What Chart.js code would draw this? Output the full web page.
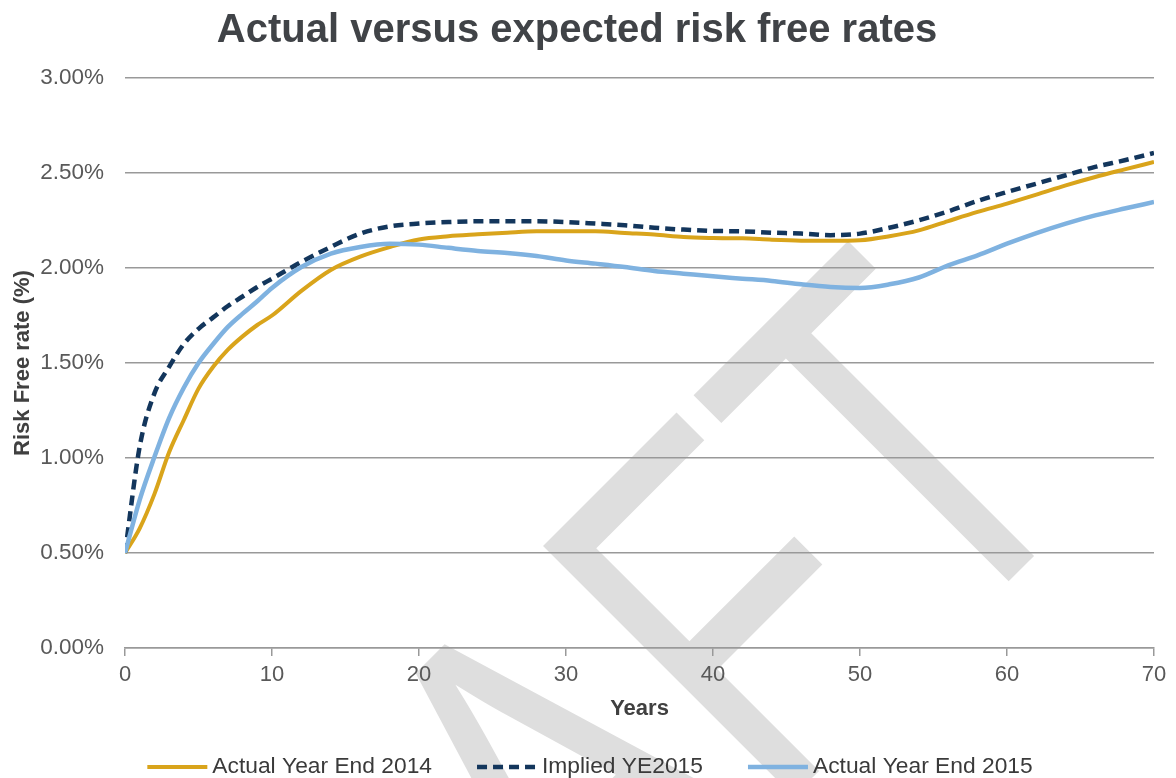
<!DOCTYPE html>
<html>
<head>
<meta charset="utf-8">
<script src="https://cdn.jsdelivr.net/npm/chart.js@4.4.1/dist/chart.umd.min.js"></script>
<style>
  html, body { margin: 0; padding: 0; background: #ffffff; }
  #wrap { width: 1176px; height: 778px; }
</style>
</head>
<body>
<div id="wrap"><canvas id="c" width="1176" height="778"></canvas></div>
<script>
// Maturity in years
const years = [0, 1, 2, 3, 4, 5, 6, 7, 8, 9, 10, 12, 14, 16, 18, 20, 22, 24, 26, 28, 30,
  32, 34, 36, 38, 40, 42, 44, 46, 48, 50, 52, 54, 56, 58, 60, 62, 64, 66, 68, 70];

// Risk free rates, in percent
const actual2014 = [0.50, 0.63, 0.81, 1.03, 1.20, 1.365, 1.48, 1.57, 1.64, 1.70, 1.75, 1.88, 1.99,
  2.06, 2.11, 2.15, 2.167, 2.177, 2.186, 2.193, 2.193, 2.193, 2.184, 2.176, 2.163, 2.158, 2.156,
  2.149, 2.144, 2.143, 2.146, 2.167, 2.198, 2.247, 2.295, 2.339, 2.386, 2.435, 2.479, 2.519, 2.558];

const implied2015 = [0.50, 1.06, 1.34, 1.48, 1.60, 1.68, 1.74, 1.80, 1.85, 1.90, 1.944, 2.032, 2.111,
  2.181, 2.219, 2.234, 2.242, 2.246, 2.246, 2.246, 2.242, 2.234, 2.225, 2.212, 2.202, 2.195, 2.193,
  2.186, 2.181, 2.173, 2.181, 2.212, 2.251, 2.298, 2.353, 2.40, 2.444, 2.488, 2.532, 2.567, 2.605];

const actual2015 = [0.50, 0.78, 1.005, 1.21, 1.37, 1.50, 1.60, 1.69, 1.76, 1.825, 1.895, 2.005, 2.076,
  2.111, 2.128, 2.123, 2.106, 2.09, 2.079, 2.063, 2.04, 2.023, 2.005, 1.984, 1.97, 1.956, 1.944,
  1.932, 1.914, 1.90, 1.895, 1.914, 1.95, 2.014, 2.067, 2.128, 2.184, 2.234, 2.277, 2.313, 2.347];

const seriesNames = ['Actual Year End 2014', 'Implied YE2015', 'Actual Year End 2015'];

const yTickMin = 0, yTickMax = 3, yTickStep = 0.5;
const xTickMin = 0, xTickMax = 70, xTickStep = 10;

const FONT = "'Liberation Sans', Arial, Helvetica, sans-serif";

const toPoints = (vals) => years.map((yr, i) => ({ x: yr, y: vals[i] }));

// White page with the large "DRAFT" stamp behind the plot
const pagePlugin = {
  id: 'page',
  beforeDraw(chart) {
    const ctx = chart.ctx;
    ctx.save();
    ctx.fillStyle = '#ffffff';
    ctx.fillRect(0, 0, chart.width, chart.height);
    ctx.font = '515px ' + FONT;
    ctx.fillStyle = '#dedede';
    ctx.textBaseline = 'alphabetic';
    ctx.textAlign = 'left';
    ctx.translate(938, 652);
    ctx.rotate(-Math.PI / 4);
    ctx.scale(0.75, 1);
    ctx.fillText('DRAFT', -ctx.measureText('DRAF').width, 0);
    ctx.restore();
  }
};

// Single-row legend under the axis title
const legendPlugin = {
  id: 'bottomLegend',
  afterDraw(chart) {
    const ctx = chart.ctx;
    const sets = chart.data.datasets;
    const sample = 60, gap = 5, spacing = 45, y = 767;
    ctx.save();
    ctx.font = '22.8px ' + FONT;
    const widths = sets.map(d => sample + gap + ctx.measureText(d.label).width);
    const total = widths.reduce((a, b) => a + b, 0) + spacing * (sets.length - 1);
    let x = (chart.width - total) / 2 + 2;
    sets.forEach((d, i) => {
      ctx.strokeStyle = d.borderColor;
      ctx.lineWidth = d.borderWidth;
      ctx.lineCap = 'butt';
      ctx.setLineDash(d.borderDash || []);
      ctx.beginPath();
      ctx.moveTo(x, y);
      ctx.lineTo(x + sample, y);
      ctx.stroke();
      ctx.setLineDash([]);
      ctx.fillStyle = '#3a3a3a';
      ctx.textBaseline = 'middle';
      ctx.textAlign = 'left';
      ctx.fillText(d.label, x + sample + gap, y);
      x += widths[i] + spacing;
    });
    ctx.restore();
  }
};

new Chart(document.getElementById('c'), {
  type: 'line',
  data: {
    datasets: [
      {
        label: seriesNames[0],
        data: toPoints(actual2014),
        borderColor: '#d9a41b',
        borderWidth: 4,
        pointRadius: 0,
        cubicInterpolationMode: 'monotone',
        order: 3
      },
      {
        label: seriesNames[1],
        data: toPoints(implied2015),
        borderColor: '#13365c',
        borderWidth: 4.5,
        borderDash: [10, 6],
        pointRadius: 0,
        cubicInterpolationMode: 'monotone',
        order: 2
      },
      {
        label: seriesNames[2],
        data: toPoints(actual2015),
        borderColor: '#7fb2e0',
        borderWidth: 4.5,
        pointRadius: 0,
        cubicInterpolationMode: 'monotone',
        order: 1
      }
    ]
  },
  options: {
    responsive: false,
    devicePixelRatio: 1,
    animation: false,
    layout: { padding: { left: 0, right: 22, top: 0, bottom: 56 } },
    plugins: {
      legend: { display: false },
      tooltip: { enabled: false },
      title: {
        display: true,
        text: 'Actual versus expected risk free rates',
        color: '#404347',
        font: { family: FONT, size: 40, weight: 'bold' },
        padding: { top: 7, bottom: 23 }
      }
    },
    scales: {
      x: {
        type: 'linear',
        min: xTickMin,
        max: xTickMax,
        ticks: { stepSize: xTickStep, padding: 6, color: '#595959', font: { family: FONT, size: 22 } },
        grid: { drawOnChartArea: false, drawTicks: true, tickLength: 8, color: '#999999', lineWidth: 1.5 },
        border: { display: true, color: '#999999', width: 1.5 },
        title: {
          display: true, text: 'Years', color: '#404040',
          font: { family: FONT, size: 22, weight: 'bold' }, padding: 0
        },
        afterFit(scale) { scale.height = 74; }
      },
      y: {
        min: yTickMin,
        max: yTickMax,
        ticks: {
          stepSize: yTickStep, padding: 21, color: '#595959', font: { family: FONT, size: 22.5 },
          callback: (v) => Number(v).toFixed(2) + '%'
        },
        grid: { color: '#999999', lineWidth: 1.5, drawTicks: false },
        border: { display: false },
        title: {
          display: true, text: 'Risk Free rate (%)', color: '#404040',
          font: { family: FONT, size: 22, weight: 'bold' }, padding: { top: 10, bottom: 0 }
        },
        afterFit(scale) { scale.width = 125; }
      }
    }
  },
  plugins: [pagePlugin, legendPlugin]
});
</script>
</body>
</html>
